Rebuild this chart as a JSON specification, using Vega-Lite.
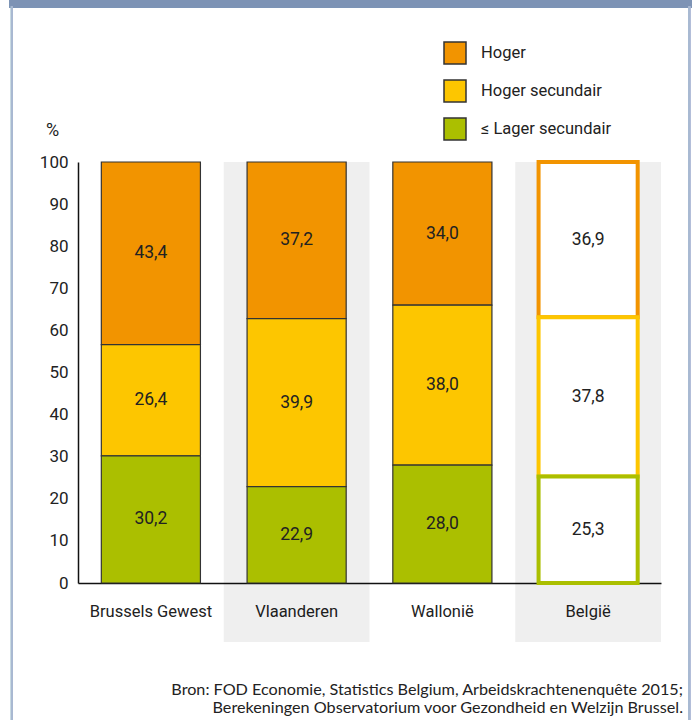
{
  "$schema": "https://vega.github.io/schema/vega-lite/v6.json",
  "width": 583,
  "height": 421,
  "autosize": {"type": "none"},
  "padding": {"left": 78, "top": 162, "right": 31, "bottom": 137},
  "background": "white",
  "config": {
    "view": {"stroke": null},
    "font": "Roboto, sans-serif",
    "locale": {"number": {"decimal": ",", "thousands": ".", "grouping": [3], "currency": ["€", ""]}},
    "legend": {"symbolStrokeColor": "#333", "symbolStrokeWidth": 1.5},
    "axisY": {
      "titleAngle": 0, "titleX": -26, "titleY": -32, "titleAlign": "center", "titleBaseline": "middle",
      "titleFontSize": 18, "titleFontWeight": "normal", "titleColor": "#222",
      "values": [0, 10, 20, 30, 40, 50, 60, 70, 80, 90, 100],
      "ticks": false, "labelPadding": 10, "labelFontSize": 17, "labelColor": "#222",
      "gridColor": "#c4c4c4", "gridWidth": 1, "domainColor": "#111", "domainWidth": 1.5
    }
  },
  "title": {
    "text": ["Bron: FOD Economie, Statistics Belgium, Arbeidskrachtenenquête 2015;", "Berekeningen Observatorium voor Gezondheid en Welzijn Brussel."],
    "orient": "bottom", "anchor": "end", "align": "right", "frame": "group",
    "font": "Lato", "fontSize": 16.2, "fontWeight": "normal", "color": "#222",
    "offset": -41, "dx": 22, "lineHeight": 18
  },
  "data": {
    "values": [
      {"region": "Brussels Gewest", "level": "Hoger", "order": 3, "value": 43.4},
      {"region": "Brussels Gewest", "level": "Hoger secundair", "order": 2, "value": 26.4},
      {"region": "Brussels Gewest", "level": "≤ Lager secundair", "order": 1, "value": 30.2},
      {"region": "Vlaanderen", "level": "Hoger", "order": 3, "value": 37.2},
      {"region": "Vlaanderen", "level": "Hoger secundair", "order": 2, "value": 39.9},
      {"region": "Vlaanderen", "level": "≤ Lager secundair", "order": 1, "value": 22.9},
      {"region": "Wallonië", "level": "Hoger", "order": 3, "value": 34.0},
      {"region": "Wallonië", "level": "Hoger secundair", "order": 2, "value": 38.0},
      {"region": "Wallonië", "level": "≤ Lager secundair", "order": 1, "value": 28.0},
      {"region": "België", "level": "Hoger", "order": 3, "value": 36.9},
      {"region": "België", "level": "Hoger secundair", "order": 2, "value": 37.8},
      {"region": "België", "level": "≤ Lager secundair", "order": 1, "value": 25.3}
    ]
  },
  "layer": [
    {
      "transform": [{"filter": "datum.order === 1 && (datum.region === 'Vlaanderen' || datum.region === 'België')"}],
      "mark": {"type": "rect", "fill": "#000", "opacity": 0.063},
      "encoding": {
        "x": {"field": "region", "type": "nominal", "sort": ["Brussels Gewest", "Vlaanderen", "Wallonië", "België"],
              "scale": {"domain": ["Brussels Gewest", "Vlaanderen", "Wallonië", "België"], "paddingInner": 0, "paddingOuter": 0}, "axis": null},
        "y": {"datum": 100, "type": "quantitative", "scale": {"domain": [0, 100]}, "title": "%"},
        "y2": {"datum": -14}
      }
    },
    {
      "layer": [
        {
          "transform": [{"filter": "datum.region !== 'België'"}],
          "mark": {"type": "bar", "stroke": "#333", "strokeWidth": 1.2},
          "encoding": {
            "x": {"field": "region", "type": "nominal", "sort": ["Brussels Gewest", "Vlaanderen", "Wallonië", "België"],
                  "scale": {"domain": ["Brussels Gewest", "Vlaanderen", "Wallonië", "België"], "paddingInner": 0.32, "paddingOuter": 0.16},
                  "axis": {"title": null, "labelAngle": 0, "ticks": false, "labelFontSize": 16.5, "labelPadding": 20, "labelColor": "#222", "domainColor": "#111", "domainWidth": 1.5}},
            "y": {"field": "value", "type": "quantitative", "stack": "zero", "scale": {"domain": [0, 100]}, "title": "%"},
            "order": {"field": "order"},
            "fill": {
              "field": "level", "type": "nominal",
              "scale": {"domain": ["Hoger", "Hoger secundair", "≤ Lager secundair"], "range": ["#f29400", "#fdc600", "#abbf00"]},
              "legend": {"orient": "none", "legendX": 365, "legendY": -121, "title": null, "symbolType": "square", "symbolSize": 484,
                         "symbolStrokeColor": "#333", "symbolStrokeWidth": 1.5, "labelFontSize": 16.5, "labelColor": "#222",
                         "labelOffset": 14, "rowPadding": 10, "padding": 0,
                         "encode": {"symbols": {"update": {"stroke": {"value": "#333"}, "strokeWidth": {"value": 1.5}, "strokeOpacity": {"value": 1}, "opacity": {"value": 1}}}}}
            }
          }
        },
        {
          "transform": [{"filter": "datum.region === 'België'"}],
          "mark": {"type": "bar", "fill": "white", "strokeWidth": 4},
          "encoding": {
            "x": {"field": "region", "type": "nominal", "sort": ["Brussels Gewest", "Vlaanderen", "Wallonië", "België"],
                  "scale": {"domain": ["Brussels Gewest", "Vlaanderen", "Wallonië", "België"], "paddingInner": 0.32, "paddingOuter": 0.16}},
            "y": {"field": "value", "type": "quantitative", "stack": "zero", "scale": {"domain": [0, 100]}, "title": "%"},
            "order": {"field": "order"},
            "stroke": {
              "condition": [
                {"test": "datum.order === 3", "value": "#f29400"},
                {"test": "datum.order === 2", "value": "#fdc600"}
              ],
              "value": "#abbf00"
            }
          }
        },
        {
          "transform": [
            {"stack": "value", "groupby": ["region"], "sort": [{"field": "order"}], "as": ["v0", "v1"]},
            {"calculate": "(datum.v0 + datum.v1) / 2", "as": "mid"}
          ],
          "mark": {"type": "text", "fontSize": 17.5, "color": "#222"},
          "encoding": {
            "x": {"field": "region", "type": "nominal", "sort": ["Brussels Gewest", "Vlaanderen", "Wallonië", "België"]},
            "y": {"field": "mid", "type": "quantitative", "scale": {"domain": [0, 100]}, "title": "%"},
            "text": {"field": "value", "type": "quantitative", "format": ".1f"}
          }
        }
      ]
    },
    {
      "mark": {"type": "rect", "fill": "#7d93b5"},
      "encoding": {
        "x": {"datum": -0.47, "type": "quantitative", "scale": {"domain": [0, 4], "nice": false, "zero": false}, "axis": null},
        "x2": {"datum": 4.22},
        "y": {"datum": 138.6, "type": "quantitative", "scale": {"domain": [0, 100]}, "title": "%"},
        "y2": {"datum": 136.7}
      }
    },
    {
      "mark": {"type": "rule", "color": "#a9b9d2", "strokeWidth": 1.5},
      "encoding": {
        "x": {"datum": -0.455, "type": "quantitative", "scale": {"domain": [0, 4], "nice": false, "zero": false}, "axis": null},
        "y": {"datum": 137, "type": "quantitative", "scale": {"domain": [0, 100]}, "title": "%"},
        "y2": {"datum": -33}
      }
    },
    {
      "mark": {"type": "rule", "color": "#a9b9d2", "strokeWidth": 1.5},
      "encoding": {
        "x": {"datum": 4.195, "type": "quantitative", "scale": {"domain": [0, 4], "nice": false, "zero": false}, "axis": null},
        "y": {"datum": 137, "type": "quantitative", "scale": {"domain": [0, 100]}, "title": "%"},
        "y2": {"datum": -33}
      }
    }
  ],
  "resolve": {"scale": {"x": "independent"}}
}
